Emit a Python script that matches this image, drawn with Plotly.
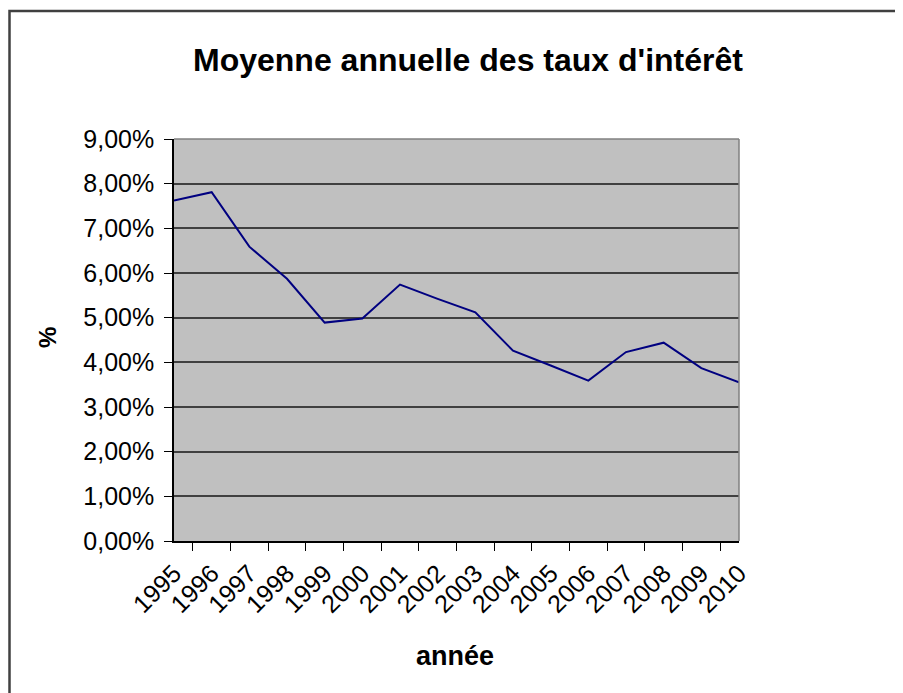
import plotly.graph_objects as go

years = ["1995", "1996", "1997", "1998", "1999", "2000", "2001", "2002",
         "2003", "2004", "2005", "2006", "2007", "2008", "2009", "2010"]
taux = [0.0762, 0.0781, 0.0659, 0.0587, 0.0489, 0.0498, 0.0574, 0.0542,
        0.0512, 0.0426, 0.0393, 0.0359, 0.0423, 0.0444, 0.0387, 0.0355]
y_ticks = [0, 0.01, 0.02, 0.03, 0.04, 0.05, 0.06, 0.07, 0.08, 0.09]

OFF = 8  # page body margin
W, H = 903 - OFF, 693 - OFF
L, R, T, B = 174 - OFF, 739 - OFF, 139 - OFF, 541 - OFF

fig = go.Figure()
fig.add_trace(go.Scatter(x=years, y=taux, mode="lines",
                         line=dict(color="#000080", width=2), hoverinfo="x+y"))

font = "Liberation Sans, Arial, sans-serif"

def px(x):
    return (x - OFF - L) / (R - L)

def py(y):
    return (B - (y - OFF)) / (B - T)

fig.update_layout(
    width=W, height=H,
    margin=dict(l=L, r=W - R, t=T, b=H - B, pad=0),
    paper_bgcolor="white", plot_bgcolor="#C0C0C0",
    separators=", ",
    showlegend=False,
    font=dict(family=font, color="black", size=25),
    xaxis=dict(type="category", tickson="boundaries", ticks="outside", ticklen=8,
               tickcolor="black", tickangle=-45, showgrid=False,
               showline=True, linecolor="black", linewidth=1.5, mirror=False,
               ticklabelstandoff=6,
               tickfont=dict(size=25), fixedrange=True),
    yaxis=dict(range=[0, 0.09], tickvals=y_ticks, tickformat=".2%",
               ticks="outside", ticklen=8, tickcolor="black",
               showgrid=True, gridcolor="#404040", gridwidth=1.5,
               showline=True, linecolor="black", linewidth=1.5,
               ticklabelstandoff=5,
               zeroline=False, tickfont=dict(size=25), fixedrange=True),
    shapes=[
        dict(type="line", xref="paper", yref="paper", x0=1, x1=1, y0=0, y1=1,
             line=dict(color="#808080", width=1.5)),
        dict(type="line", xref="paper", yref="paper", x0=0, x1=1, y0=1, y1=1,
             line=dict(color="#808080", width=1.5)),
        dict(type="rect", xref="paper", yref="paper",
             x0=px(9.5), x1=px(915), y0=py(705), y1=py(11),
             line=dict(color="#404040", width=2.5), layer="below"),
    ],
    annotations=[
        dict(text="<b>Moyenne annuelle des taux d'intérêt</b>", xref="paper", yref="paper",
             x=px(468), y=py(60), xanchor="center", yanchor="middle",
             showarrow=False, font=dict(size=32)),
        dict(text="<b>%</b>", xref="paper", yref="paper", x=px(47), y=py(338),
             xanchor="center", yanchor="middle", textangle=-90,
             showarrow=False, font=dict(size=24)),
        dict(text="<b>année</b>", xref="paper", yref="paper", x=px(455), y=py(656),
             xanchor="center", yanchor="middle",
             showarrow=False, font=dict(size=27)),
    ],
)

fig.write_html("out.html")
